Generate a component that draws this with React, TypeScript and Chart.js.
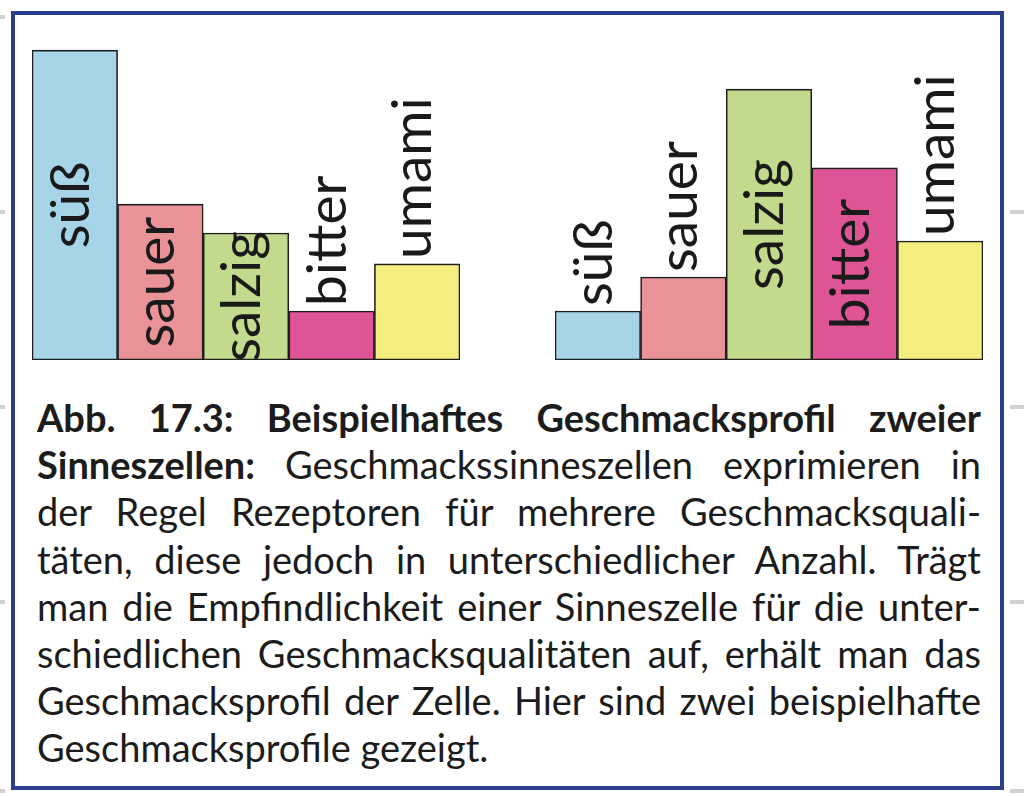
import React, { useEffect, useRef } from "react";
import { Chart, registerables } from "chart.js";

Chart.register(...registerables);

const categories = ["süß", "sauer", "salzig", "bitter", "umami"];
const cellA = [100, 50.3, 41, 15.8, 31];
const cellB = [15.8, 26.8, 87.4, 62, 38.4];
const barColors = ["#a6d5ea", "#e99399", "#c1da8b", "#de5494", "#f4ee7e"];
const yMax = 106.5;

const captionLines: { bold?: string; text: string; last?: boolean }[] = [
  { bold: "Abb. 17.3: Beispielhaftes Geschmacksprofil zweier", text: "" },
  { bold: "Sinneszellen:", text: " Geschmackssinneszellen exprimieren in" },
  { text: "der Regel Rezeptoren für mehrere Geschmacksquali-" },
  { text: "täten, diese jedoch in unterschiedlicher Anzahl. Trägt" },
  { text: "man die Empfindlichkeit einer Sinneszelle für die unter-" },
  { text: "schiedlichen Geschmacksqualitäten auf, erhält man das" },
  { text: "Geschmacksprofil der Zelle. Hier sind zwei beispielhafte" },
  { text: "Geschmacksprofile gezeigt.", last: true },
];

const labelFont = "400 55px Lato";

const barLabelPlugin = {
  id: "barLabels",
  afterDatasetsDraw(chart: any) {
    const ctx = chart.ctx;
    const meta = chart.getDatasetMeta(0);
    const labels = chart.data.labels as string[];
    ctx.save();
    ctx.font = labelFont;
    ctx.fillStyle = "#1a1a1a";
    const xh = ctx.measureText("x").actualBoundingBoxAscent;
    meta.data.forEach((bar: any, i: number) => {
      const text = labels[i];
      const w = ctx.measureText(text).width;
      const h = bar.base - bar.y;
      ctx.save();
      if (w <= h + 15) {
        ctx.translate(bar.x, (bar.y + bar.base) / 2);
        ctx.rotate(-Math.PI / 2);
        ctx.textAlign = "center";
      } else {
        ctx.translate(bar.x, bar.y - 5);
        ctx.rotate(-Math.PI / 2);
        ctx.textAlign = "left";
      }
      ctx.textBaseline = "alphabetic";
      ctx.fillText(text, 0, xh / 2);
      ctx.restore();
    });
    ctx.restore();
  },
};

function BarProfile({ values, left }: { values: number[]; left: number }) {
  const ref = useRef<HTMLCanvasElement>(null);
  useEffect(() => {
    if (!ref.current) return;
    const chart = new Chart(ref.current, {
      type: "bar",
      data: {
        labels: categories,
        datasets: [
          {
            data: values,
            backgroundColor: barColors,
            borderColor: "#1e1e1e",
            borderWidth: 1.6,
            borderSkipped: false,
            categoryPercentage: 1,
            barPercentage: 1,
          },
        ],
      },
      options: {
        animation: false,
        responsive: false,
        maintainAspectRatio: false,
        layout: { padding: 0 },
        plugins: { legend: { display: false }, tooltip: { enabled: false } },
        scales: {
          x: { display: false },
          y: { display: false, min: 0, max: yMax },
        },
      },
      plugins: [barLabelPlugin],
    });
    return () => chart.destroy();
  }, []);
  return (
    <canvas
      ref={ref}
      width={428}
      height={330}
      style={{ position: "absolute", left, top: 30, width: 428, height: 330 }}
    />
  );
}

const tickYsLeft = [15, 210, 405, 600, 789];
const tickYsRight = [210, 405, 600, 789];

export default function App() {
  return (
    <div
      style={{
        position: "fixed",
        left: 0,
        top: 0,
        width: 1024,
        height: 796,
        background: "#ffffff",
        overflow: "hidden",
      }}
    >
      {tickYsLeft.map((y) => (
        <div key={"l" + y} style={{ position: "absolute", left: 0, top: y, width: 5, height: 4, background: "#d2d2d2" }} />
      ))}
      {tickYsRight.map((y) => (
        <div key={"r" + y} style={{ position: "absolute", left: 1010, top: y, width: 14, height: 4, background: "#d2d2d2" }} />
      ))}
      <div
        style={{
          position: "absolute",
          left: 11,
          top: 11,
          width: 993,
          height: 779,
          border: "4px solid #2d3d8e",
          boxSizing: "border-box",
          background: "#ffffff",
        }}
      />
      <BarProfile values={cellA} left={32} />
      <BarProfile values={cellB} left={555} />
      <div
        style={{
          position: "absolute",
          left: 37,
          top: 394,
          width: 944,
          fontFamily: "Lato, 'Open Sans', sans-serif",
          fontSize: 38,
          fontWeight: 400,
          lineHeight: "47.2px",
          color: "#1c1c1c",
        }}
      >
        {captionLines.map((l, i) => (
          <div
            key={i}
            style={{
              whiteSpace: "nowrap",
              textAlign: l.last ? "left" : "justify",
              textAlignLast: l.last ? "left" : "justify",
            } as any}
          >
            {l.bold ? <b style={{ fontWeight: 700 }}>{l.bold}</b> : null}
            {l.text}
          </div>
        ))}
      </div>
    </div>
  );
}
